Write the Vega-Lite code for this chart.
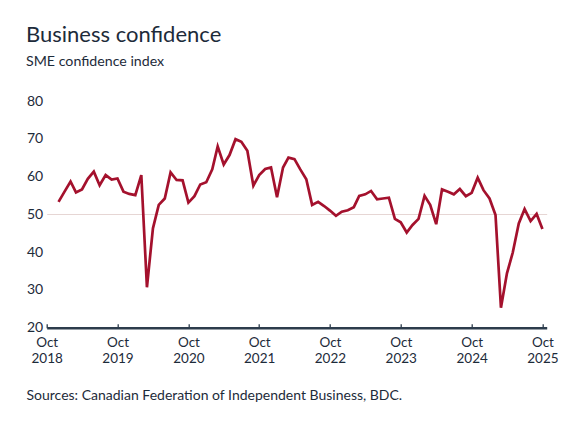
{
  "$schema": "https://vega.github.io/schema/vega-lite/v6.json",
  "autosize": {"type": "none"},
  "padding": {"left": 46.7, "top": 101, "right": 28.3, "bottom": 103.3},
  "width": 500,
  "height": 226.7,
  "background": "white",
  "title": {
    "text": "Business confidence",
    "subtitle": "SME confidence index",
    "anchor": "start",
    "frame": "group",
    "dx": -20.7,
    "offset": 24,
    "font": "Lato",
    "fontSize": 22,
    "fontWeight": "normal",
    "color": "#1d2b3a",
    "subtitleFont": "Lato",
    "subtitleFontSize": 14.2,
    "subtitleColor": "#1d2b3a",
    "subtitlePadding": 8
  },
  "config": {
    "view": {"stroke": null},
    "font": "Lato"
  },
  "data": {
    "values": [
      {"date": "2018-12-01", "value": 53.3},
      {"date": "2019-01-01", "value": 56.0},
      {"date": "2019-02-01", "value": 58.7},
      {"date": "2019-03-01", "value": 55.8},
      {"date": "2019-04-01", "value": 56.6},
      {"date": "2019-05-01", "value": 59.4},
      {"date": "2019-06-01", "value": 61.3},
      {"date": "2019-07-01", "value": 57.7},
      {"date": "2019-08-01", "value": 60.4},
      {"date": "2019-09-01", "value": 59.2},
      {"date": "2019-10-01", "value": 59.5},
      {"date": "2019-11-01", "value": 56.0},
      {"date": "2019-12-01", "value": 55.4},
      {"date": "2020-01-01", "value": 55.1},
      {"date": "2020-02-01", "value": 60.4},
      {"date": "2020-03-01", "value": 30.7},
      {"date": "2020-04-01", "value": 46.3},
      {"date": "2020-05-01", "value": 52.5},
      {"date": "2020-06-01", "value": 54.2},
      {"date": "2020-07-01", "value": 61.1},
      {"date": "2020-08-01", "value": 59.1},
      {"date": "2020-09-01", "value": 59.0},
      {"date": "2020-10-01", "value": 53.1},
      {"date": "2020-11-01", "value": 54.8},
      {"date": "2020-12-01", "value": 57.9},
      {"date": "2021-01-01", "value": 58.5},
      {"date": "2021-02-01", "value": 61.9},
      {"date": "2021-03-01", "value": 68.0},
      {"date": "2021-04-01", "value": 63.2},
      {"date": "2021-05-01", "value": 65.7},
      {"date": "2021-06-01", "value": 69.9},
      {"date": "2021-07-01", "value": 69.2},
      {"date": "2021-08-01", "value": 66.8},
      {"date": "2021-09-01", "value": 57.6},
      {"date": "2021-10-01", "value": 60.4},
      {"date": "2021-11-01", "value": 62.0},
      {"date": "2021-12-01", "value": 62.4},
      {"date": "2022-01-01", "value": 54.5},
      {"date": "2022-02-01", "value": 62.4},
      {"date": "2022-03-01", "value": 65.0},
      {"date": "2022-04-01", "value": 64.6},
      {"date": "2022-05-01", "value": 61.9},
      {"date": "2022-06-01", "value": 59.3},
      {"date": "2022-07-01", "value": 52.5},
      {"date": "2022-08-01", "value": 53.3},
      {"date": "2022-09-01", "value": 52.2},
      {"date": "2022-10-01", "value": 51.0},
      {"date": "2022-11-01", "value": 49.6},
      {"date": "2022-12-01", "value": 50.7},
      {"date": "2023-01-01", "value": 51.1},
      {"date": "2023-02-01", "value": 51.9},
      {"date": "2023-03-01", "value": 54.9},
      {"date": "2023-04-01", "value": 55.3},
      {"date": "2023-05-01", "value": 56.2},
      {"date": "2023-06-01", "value": 54.0},
      {"date": "2023-07-01", "value": 54.2},
      {"date": "2023-08-01", "value": 54.4},
      {"date": "2023-09-01", "value": 48.8},
      {"date": "2023-10-01", "value": 47.9},
      {"date": "2023-11-01", "value": 45.2},
      {"date": "2023-12-01", "value": 47.2},
      {"date": "2024-01-01", "value": 48.8},
      {"date": "2024-02-01", "value": 54.9},
      {"date": "2024-03-01", "value": 52.5},
      {"date": "2024-04-01", "value": 47.4},
      {"date": "2024-05-01", "value": 56.6},
      {"date": "2024-06-01", "value": 56.0},
      {"date": "2024-07-01", "value": 55.3},
      {"date": "2024-08-01", "value": 56.7},
      {"date": "2024-09-01", "value": 54.8},
      {"date": "2024-10-01", "value": 55.7},
      {"date": "2024-11-01", "value": 59.7},
      {"date": "2024-12-01", "value": 56.4},
      {"date": "2025-01-01", "value": 54.2},
      {"date": "2025-02-01", "value": 49.8},
      {"date": "2025-03-01", "value": 25.3},
      {"date": "2025-04-01", "value": 34.4},
      {"date": "2025-05-01", "value": 39.9},
      {"date": "2025-06-01", "value": 47.6},
      {"date": "2025-07-01", "value": 51.4},
      {"date": "2025-08-01", "value": 48.2},
      {"date": "2025-09-01", "value": 50.1},
      {"date": "2025-10-01", "value": 46.1}
    ]
  },
  "mark": {"type": "line", "color": "#a4112d", "strokeWidth": 2.7, "strokeJoin": "miter", "interpolate": "linear"},
  "encoding": {
    "x": {
      "field": "date",
      "type": "temporal",
      "scale": {
        "type": "utc",
        "domain": [
          {"year": 2018, "month": 10, "date": 1, "utc": true},
          {"year": 2025, "month": 10, "date": 23, "utc": true}
        ]
      },
      "axis": {
        "values": [
          {"year": 2018, "month": 10, "date": 1, "utc": true},
          {"year": 2019, "month": 10, "date": 1, "utc": true},
          {"year": 2020, "month": 10, "date": 1, "utc": true},
          {"year": 2021, "month": 10, "date": 1, "utc": true},
          {"year": 2022, "month": 10, "date": 1, "utc": true},
          {"year": 2023, "month": 10, "date": 1, "utc": true},
          {"year": 2024, "month": 10, "date": 1, "utc": true},
          {"year": 2025, "month": 10, "date": 1, "utc": true}
        ],
        "labelExpr": "[utcFormat(datum.value, '%b'), utcFormat(datum.value, '%Y')]",
        "labelFont": "Lato",
        "labelFontSize": 13.5,
        "labelLineHeight": 16,
        "labelColor": "#1d2b3a",
        "labelPadding": 12,
        "labelFlush": false,
        "labelOverlap": false,
        "domainColor": "#2c3c4c",
        "domainWidth": 2.4,
        "tickColor": "#2c3c4c",
        "tickWidth": 1.3,
        "tickSize": -4,
        "grid": false,
        "title": "Sources: Canadian Federation of Independent Business, BDC.",
        "titleFont": "Lato",
        "titleFontSize": 14,
        "titleFontWeight": "normal",
        "titleColor": "#1d2b3a",
        "titleAnchor": "start",
        "titleAlign": "left",
        "titleBaseline": "alphabetic",
        "titleX": -20.7,
        "titleY": 71.5
      }
    },
    "y": {
      "field": "value",
      "type": "quantitative",
      "scale": {"domain": [20, 80], "nice": false, "zero": false},
      "axis": {
        "values": [20, 30, 40, 50, 60, 70, 80],
        "labelFont": "Lato",
        "labelFontSize": 14,
        "labelColor": "#1d2b3a",
        "labelPadding": 4,
        "domain": false,
        "ticks": false,
        "grid": true,
        "gridColor": {"condition": {"test": "datum.value === 50", "value": "#e6d6d4"}, "value": "transparent"},
        "gridWidth": 1,
        "title": null
      }
    }
  }
}
